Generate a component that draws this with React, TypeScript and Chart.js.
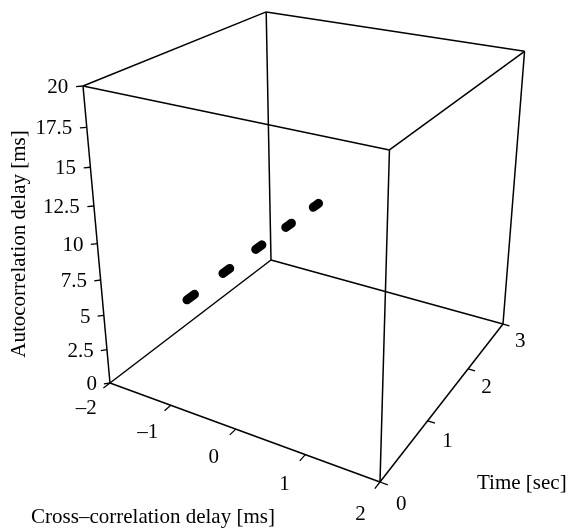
import React, { useEffect, useRef } from "react";
import { Chart, registerables } from "chart.js";

Chart.register(...registerables);

// ---- axis ranges & ticks ----
const crossRange = [-2, 2];
const timeRange = [0, 3];
const autoRange = [0, 20];

const crossTicks = [-2, -1, 0, 1, 2];
const crossTickLabels = ["–2", "–1", "0", "1", "2"];
const timeTicks = [0, 1, 2, 3];
const timeTickLabels = ["0", "1", "2", "3"];
const autoTicks = [0, 2.5, 5, 7.5, 10, 12.5, 15, 17.5, 20];
const autoTickLabels = ["0", "2.5", "5", "7.5", "10", "12.5", "15", "17.5", "20"];

// ---- measured track segments (one per burst) ----
const trackCross = [-1.0, -1.0, -1.0, -1.0, -1.0];
const trackAuto = [6.4, 6.4, 6.4, 6.4, 6.4];
const trackStart = [0.34, 0.94, 1.54, 2.14, 2.74];
const trackEnd = [0.46, 1.06, 1.66, 2.26, 2.86];

const W = 569;
const H = 529;
const FONT = '21px "Liberation Serif", "Times New Roman", serif';

// perspective camera matrix on normalized box coords (u,v,w,1) -> homogeneous view coords
const VIEW = [
  [221.47, 223.74, -36.54, 110],
  [37.45, -62.81, -306.89, 383],
  [-0.1277, 0.2315, -0.115, 1],
];

function project(x: number, t: number, z: number) {
  const u = (x - crossRange[0]) / (crossRange[1] - crossRange[0]);
  const v = (t - timeRange[0]) / (timeRange[1] - timeRange[0]);
  const w = (z - autoRange[0]) / (autoRange[1] - autoRange[0]);
  const p = [u, v, w, 1];
  const r = VIEW.map((row) => row[0] * p[0] + row[1] * p[1] + row[2] * p[2] + row[3] * p[3]);
  return { x: r[0] / r[2], y: r[1] / r[2] };
}

const dx = crossRange[1] - crossRange[0];
const dt = timeRange[1] - timeRange[0];
const dz = autoRange[1] - autoRange[0];

function lineDs(pts: { x: number; y: number }[], width: number, cap = "butt") {
  return {
    data: pts,
    showLine: true,
    borderColor: "#000",
    backgroundColor: "#000",
    borderWidth: width,
    borderCapStyle: cap,
    pointRadius: 0,
    tension: 0,
  } as any;
}

function buildDatasets() {
  const ds: any[] = [];
  const [x0, x1] = crossRange;
  const [t0, t1] = timeRange;
  const [z0, z1] = autoRange;
  const edges: [number, number, number, number, number, number][] = [
    [x0, t0, z0, x1, t0, z0],
    [x1, t0, z0, x1, t1, z0],
    [x1, t1, z0, x0, t1, z0],
    [x0, t1, z0, x0, t0, z0],
    [x0, t0, z1, x1, t0, z1],
    [x1, t0, z1, x1, t1, z1],
    [x1, t1, z1, x0, t1, z1],
    [x0, t1, z1, x0, t0, z1],
    [x0, t0, z0, x0, t0, z1],
    [x1, t0, z0, x1, t0, z1],
    [x1, t1, z0, x1, t1, z1],
    [x0, t1, z0, x0, t1, z1],
  ];
  edges.forEach((e) => ds.push(lineDs([project(e[0], e[1], e[2]), project(e[3], e[4], e[5])], 1.5)));

  // ticks: auto-correlation (left vertical edge), pointing -x,-t
  autoTicks.forEach((z) =>
    ds.push(lineDs([project(x0, t0, z), project(x0 - 0.014 * dx, t0 - 0.014 * dt, z)], 1.3))
  );
  // cross-correlation ticks along front-bottom edge, pointing -t
  crossTicks.forEach((x) =>
    ds.push(lineDs([project(x, t0, z0), project(x, t0 - 0.033 * dt, z0)], 1.3))
  );
  // time ticks along right-bottom edge, pointing +x
  timeTicks.forEach((t) =>
    ds.push(lineDs([project(x1, t, z0), project(x1 + 0.025 * dx, t, z0)], 1.3))
  );

  // data tracks
  trackStart.forEach((ts, i) => {
    const pts = [
      project(trackCross[i], ts, trackAuto[i]),
      project(trackCross[i], (ts + trackEnd[i]) / 2, trackAuto[i]),
      project(trackCross[i], trackEnd[i], trackAuto[i]),
    ];
    ds.push(lineDs(pts, 9, "round"));
  });
  return ds;
}

const labelsPlugin = {
  id: "axisLabels3d",
  afterDatasetsDraw(chart: any) {
    const ctx = chart.ctx as CanvasRenderingContext2D;
    const sx = chart.scales.x;
    const sy = chart.scales.y;
    const px = (p: { x: number; y: number }) => ({ x: sx.getPixelForValue(p.x), y: sy.getPixelForValue(p.y) });
    const [x0, x1] = crossRange;
    const [t0] = timeRange;
    const [z0] = autoRange;
    ctx.save();
    ctx.fillStyle = "#000";
    ctx.font = FONT;

    // auto-correlation tick labels
    ctx.textAlign = "right";
    ctx.textBaseline = "middle";
    autoTicks.forEach((z, i) => {
      const p = px(project(x0 - 0.03 * dx, t0 - 0.03 * dt, z));
      ctx.fillText(autoTickLabels[i], p.x, p.y);
    });

    // cross-correlation tick labels
    ctx.textAlign = "center";
    crossTicks.forEach((x, i) => {
      const p = px(project(x, t0 - 0.12 * dt, z0 - 0.025 * dz));
      ctx.fillText(crossTickLabels[i], p.x, p.y);
    });

    // time tick labels
    timeTicks.forEach((t, i) => {
      const p = px(project(x1 + 0.07 * dx, t, z0 - 0.05 * dz));
      ctx.fillText(timeTickLabels[i], p.x, p.y);
    });

    // axis titles
    ctx.textAlign = "center";
    ctx.fillText("Cross–correlation delay [ms]", sx.getPixelForValue(153), sy.getPixelForValue(517));
    ctx.textAlign = "left";
    ctx.fillText("Time [sec]", sx.getPixelForValue(477), sy.getPixelForValue(483));
    ctx.translate(sx.getPixelForValue(19), sy.getPixelForValue(244));
    ctx.rotate(-Math.PI / 2);
    ctx.textAlign = "center";
    ctx.fillText("Autocorrelation delay [ms]", 0, 0);
    ctx.restore();
  },
};

export default function App() {
  const ref = useRef<HTMLCanvasElement | null>(null);
  useEffect(() => {
    if (!ref.current) return;
    const chart = new Chart(ref.current, {
      type: "scatter",
      data: { datasets: buildDatasets() },
      options: {
        animation: false,
        responsive: false,
        events: [],
        layout: { padding: 0 },
        plugins: { legend: { display: false }, tooltip: { enabled: false } },
        scales: {
          x: { type: "linear", min: 0, max: W, display: false },
          y: { type: "linear", min: 0, max: H, reverse: true, display: false },
        },
      },
      plugins: [labelsPlugin],
    } as any);
    return () => chart.destroy();
  }, []);
  return (
    <div style={{ position: "fixed", left: 0, top: 0, width: W, height: H, background: "#fff" }}>
      <canvas ref={ref} width={W} height={H} style={{ width: W, height: H, display: "block" }} />
    </div>
  );
}
